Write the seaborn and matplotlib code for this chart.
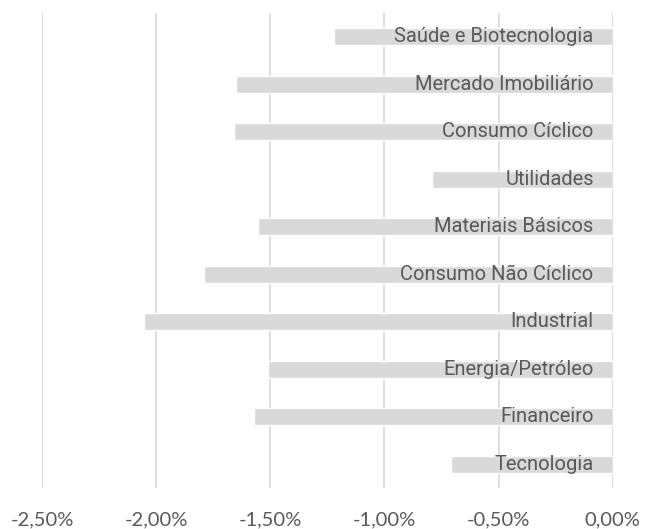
import matplotlib
matplotlib.use("Agg")
import matplotlib.pyplot as plt
import seaborn as sns
import pandas as pd
from matplotlib.ticker import FuncFormatter

categories = ["Saúde e Biotecnologia", "Mercado Imobiliário", "Consumo Cíclico",
              "Utilidades", "Materiais Básicos", "Consumo Não Cíclico", "Industrial",
              "Energia/Petróleo", "Financeiro", "Tecnologia"]
values = [-1.22, -1.65, -1.66, -0.79, -1.555, -1.79, -2.055, -1.51, -1.57, -0.71]
xticks = [-2.5, -2.0, -1.5, -1.0, -0.5, 0.0]

df = pd.DataFrame({"setor": categories, "valor": values})

sns.set_theme(style="white")
plt.rcParams['font.family'] = ["Lato", "DejaVu Sans"]

fig = plt.figure(figsize=(6.47, 5.29), dpi=100)
ax = fig.add_axes([0.0649, 0.0775, 0.882, 0.898])

sns.barplot(data=df, y="setor", x="valor", orient="h", color="#d9d9d9",
            saturation=1, width=0.35, ax=ax, zorder=2)

ax.set_xlim(-2.5, 0)
ax.set_ylim(9.5, -0.5)
ax.set_xticks(xticks)
ax.xaxis.set_major_formatter(FuncFormatter(lambda v, p: f"{v:.2f}%".replace(".", ",")))
ax.tick_params(axis="x", length=0, pad=17, labelsize=14.5, labelcolor="#595959")
ax.set_yticks([])
ax.set_xlabel("")
ax.set_ylabel("")
for s in ax.spines.values():
    s.set_visible(False)
ax.grid(axis="x", color="#d9d9d9", linewidth=1.2, zorder=0)
ax.set_axisbelow(True)

for i, name in enumerate(categories):
    ax.annotate(name, xy=(0, i), xytext=(-19, 0), textcoords="offset pixels",
                ha="right", va="center", fontsize=14.5, color="#595959",
                family=["Roboto", "DejaVu Sans"], zorder=3)

fig.savefig("out.png", dpi=100)
